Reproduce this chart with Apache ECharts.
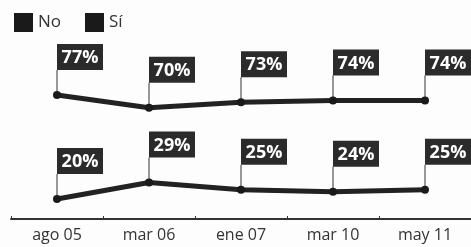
<!DOCTYPE html>
<html>
<head>
<meta charset="utf-8">
<script src="https://cdn.jsdelivr.net/npm/echarts@6/dist/echarts.min.js"></script>
<style>
  html, body { margin: 0; padding: 0; background: #fdfdfd; }
  #main { width: 471px; height: 247px; }
</style>
</head>
<body>
<div id="main"></div>
<script>
// datos de la encuesta
var categorias = ['ago 05', 'mar 06', 'ene 07', 'mar 10', 'may 11'];
var valoresNo = [77, 70, 73, 74, 74];
var valoresSi = [20, 29, 25, 24, 25];

var chart = echarts.init(document.getElementById('main'));

// banderita: palo + caja con el porcentaje
function renderFlag(params, api) {
  var pt = api.coord([api.value(0), api.value(1)]);
  var pole = 25, w = 46, h = 26;
  return {
    type: 'group',
    children: [
      {
        type: 'line',
        shape: { x1: pt[0], y1: pt[1], x2: pt[0], y2: pt[1] - pole },
        style: { stroke: '#333', lineWidth: 1 }
      },
      {
        type: 'rect',
        shape: { x: pt[0], y: pt[1] - pole - h, width: w, height: h },
        style: { fill: '#2b2b2b' }
      },
      {
        type: 'text',
        x: pt[0] + w / 2,
        y: pt[1] - pole - h / 2 + 1,
        style: {
          text: api.value(1) + '%',
          fill: '#fff',
          font: 'bold 18px "Open Sans"',
          align: 'center',
          verticalAlign: 'middle'
        }
      }
    ]
  };
}

function flagData(vals) {
  return vals.map(function (v, i) { return [i, v]; });
}

var option = {
  animation: false,
  backgroundColor: '#fdfdfd',
  legend: {
    left: 9,
    top: 8,
    icon: 'rect',
    itemWidth: 19,
    itemHeight: 19,
    itemGap: 24,
    textStyle: { fontFamily: 'Open Sans', fontSize: 17, color: '#333', padding: [0, 0, 0, 0] },
    data: ['No', 'Sí']
  },
  grid: { left: 11, right: -2, top: 53, bottom: 28 },
  xAxis: {
    type: 'category',
    data: categorias,
    boundaryGap: true,
    axisLine: { lineStyle: { color: '#333', width: 2 } },
    axisTick: { show: true, inside: true, length: 3, lineStyle: { color: '#333' } },
    axisLabel: { fontFamily: 'Open Sans', fontSize: 16, color: '#333', margin: 8 }
  },
  yAxis: {
    type: 'value',
    min: 9,
    max: 100,
    show: false,
    splitLine: { show: false }
  },
  series: [
    {
      name: 'No',
      type: 'line',
      data: valoresNo,
      symbol: 'circle',
      symbolSize: 8,
      color: '#333',
      lineStyle: { width: 5, color: '#222' },
      itemStyle: { color: '#1a1a1a' },
      z: 3
    },
    {
      name: 'Sí',
      type: 'line',
      data: valoresSi,
      symbol: 'circle',
      symbolSize: 8,
      color: '#3a3a3a',
      lineStyle: { width: 5, color: '#222' },
      itemStyle: { color: '#1a1a1a' },
      z: 3
    },
    {
      type: 'custom',
      renderItem: renderFlag,
      data: flagData(valoresNo),
      clip: false,
      z: 2
    },
    {
      type: 'custom',
      renderItem: renderFlag,
      data: flagData(valoresSi),
      clip: false,
      z: 2
    }
  ]
};

chart.setOption(option);
</script>
</body>
</html>
